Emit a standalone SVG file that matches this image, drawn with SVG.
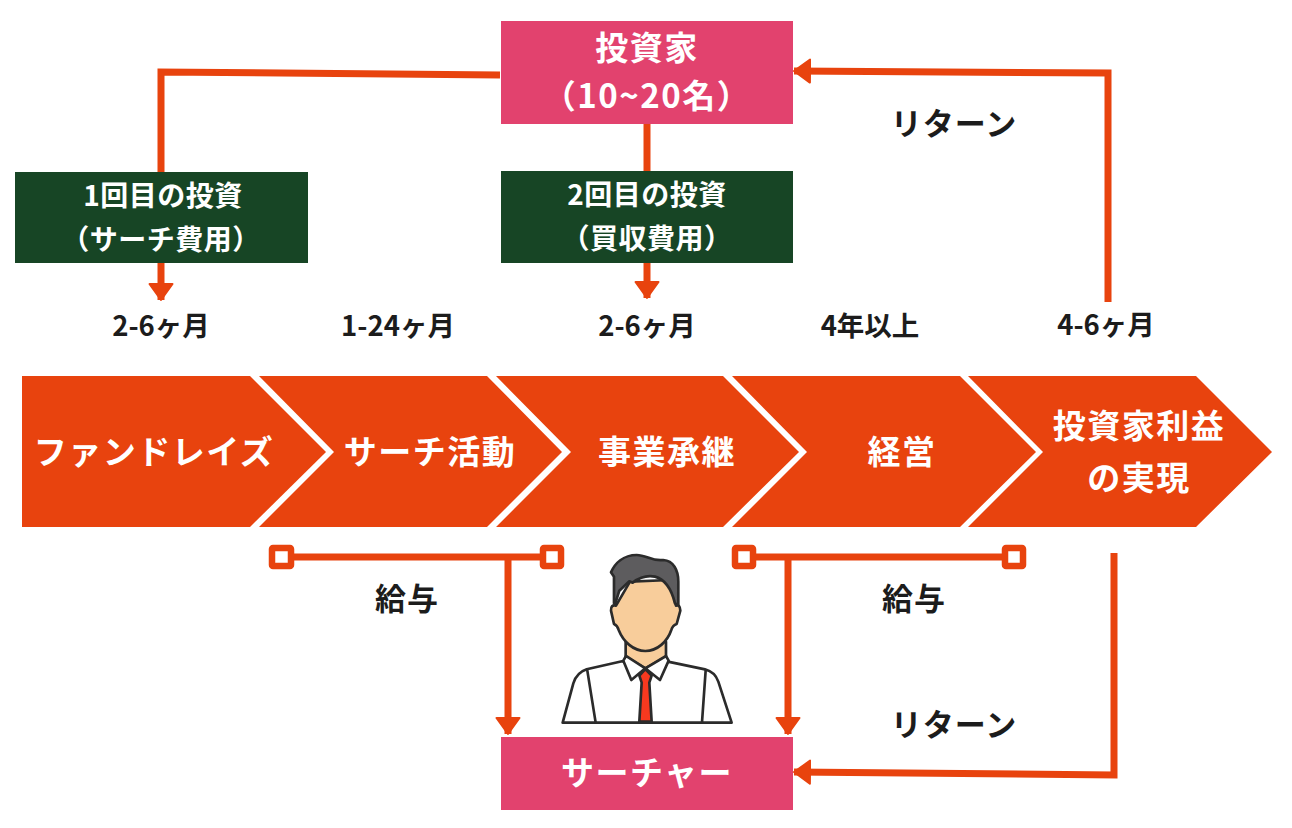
<svg xmlns="http://www.w3.org/2000/svg" width="1292" height="828" viewBox="0 0 1292 828">
<style>
text{font-family:"Noto Sans CJK JP","Noto Sans",sans-serif;font-weight:700;text-anchor:middle}
.w{fill:#fff}.d{fill:#1c1c1c}
.t1{font-size:33px;letter-spacing:1.500px}
.t2{font-size:28px;letter-spacing:.5px}
.t3{font-size:27.500px}
.t4{font-size:31px;letter-spacing:1px}
.c{fill:#e8430e}
.l{fill:none;stroke:#e8430e;stroke-width:7}
.s{fill:#fff;stroke:#e8430e;stroke-width:6.500}
.p{stroke:#2b2b2b;stroke-width:8;stroke-linejoin:round;stroke-linecap:round}
</style>
<defs><marker id="a" markerUnits="userSpaceOnUse" markerWidth="28" markerHeight="28" refX="17" refY="14" orient="auto"><path d="M1,2.500L17,14L1,25.500Z" fill="#e8430e" stroke="#e8430e" stroke-width="2" stroke-linejoin="round"/></marker></defs>
<g id="connectors">
<path class="l" d="M500,75L161,72V172"/>
<path class="l" d="M161,263V300" marker-end="url(#a)"/>
<path class="l" d="M647,124V171"/>
<path class="l" d="M647,263V298" marker-end="url(#a)"/>
<path class="l" d="M1108,302V73L794,71" marker-end="url(#a)"/>
<path class="l" d="M293,557H541"/>
<path class="l" d="M755,557H1003"/>
<path class="l" d="M508,558V734" marker-end="url(#a)"/>
<path class="l" d="M788,558V734" marker-end="url(#a)"/>
<path class="l" d="M1114,553V775L794,772" marker-end="url(#a)"/>
<rect class="s" x="272" y="548" width="19" height="18" rx="1"/>
<rect class="s" x="543" y="548" width="18" height="18" rx="1"/>
<rect class="s" x="735" y="548" width="18" height="18" rx="1"/>
<rect class="s" x="1005" y="548" width="18" height="18" rx="1"/>
</g>
<g id="investor"><rect x="501" y="21" width="292" height="103" fill="#e2426e"/><text class="w t1" x="647" y="60">投資家</text><text class="w t1" x="647" y="108">（10~20名）</text></g>
<g id="first"><rect x="15" y="172" width="293" height="91" fill="#174525"/><text class="w t2" x="163" y="206">1回目の投資</text><text class="w t2" x="161" y="250">（サーチ費用）</text></g>
<g id="second"><rect x="501" y="171" width="292" height="92" fill="#174525"/><text class="w t2" x="647" y="205">2回目の投資</text><text class="w t2" x="647" y="249">（買収費用）</text></g>
<g id="s1"><polygon class="c" points="22,376 250,376 326,452 250,527 22,527"/><text class="w t1" x="154" y="464">ファンドレイズ</text></g>
<g id="s2"><polygon class="c" points="259,376 487,376 562,452 487,527 259,527 334,452"/><text class="w t1" x="430" y="464">サーチ活動</text></g>
<g id="s3"><polygon class="c" points="496,376 723,376 799,452 723,527 496,527 571,452"/><text class="w t1" x="667" y="464">事業承継</text></g>
<g id="s4"><polygon class="c" points="732,376 960,376 1036,452 960,527 732,527 807,452"/><text class="w t1" x="902" y="464">経営</text></g>
<g id="s5"><polygon class="c" points="968,376 1196,376 1272,452 1196,527 968,527 1043,452"/><text class="w t1" x="1139" y="438">投資家利益</text><text class="w t1" x="1139" y="490">の実現</text></g>
<g id="durations"><text class="d t3" x="161" y="336">2-6ヶ月</text><text class="d t3" x="398" y="336">1-24ヶ月</text><text class="d t3" x="647" y="336">2-6ヶ月</text><text class="d t3" x="870" y="336">4年以上</text><text class="d t3" x="1106" y="335">4-6ヶ月</text></g>
<g id="labels"><text class="d t4" x="954" y="135">リターン</text><text class="d t4" x="407" y="610">給与</text><text class="d t4" x="914" y="610">給与</text><text class="d t4" x="954" y="736">リターン</text></g>
<g id="searcher"><rect x="501" y="737" width="292" height="73" fill="#e2426e"/><text class="w t1" x="647" y="785">サーチャー</text></g>
<g id="person" transform="translate(540 540) scale(.3333)">
<path class="p" fill="#fff" d="M68,548L100,430Q110,398 140,388L246,364L380,364L495,388Q525,396 535,425L575,548Z"/>
<path class="p" fill="none" d="M142,392L167,548M497,392L486,548"/>
<path class="p" fill="#f8cd9b" d="M257,305V350L316,385L378,350V305Z"/>
<path class="p" fill="#fff" d="M258,348L316,385L274,420L250,362ZM378,348L316,385L360,420L386,362Z"/>
<path class="p" fill="#f7391f" d="M316,387L335,407L328,428L335,545H298L305,428L298,407Z"/>
<path class="p" fill="#f8cd9b" d="M228,197Q212,193 213,212L222,252Q232,256 236,270C250,305 280,333 316,333C352,333 382,305 394,270Q398,256 410,252L421,212Q420,193 408,197L390,120L270,125Z"/>
<path class="p" fill="#5d5c5e" d="M213,97C225,70 250,45 290,45C320,45 335,65 370,60C400,62 415,90 415,125V195L405,190C395,150 375,118 345,110C320,105 295,115 278,128L268,124L238,152L226,190L222,190V110Z"/>
</g>
</svg>
